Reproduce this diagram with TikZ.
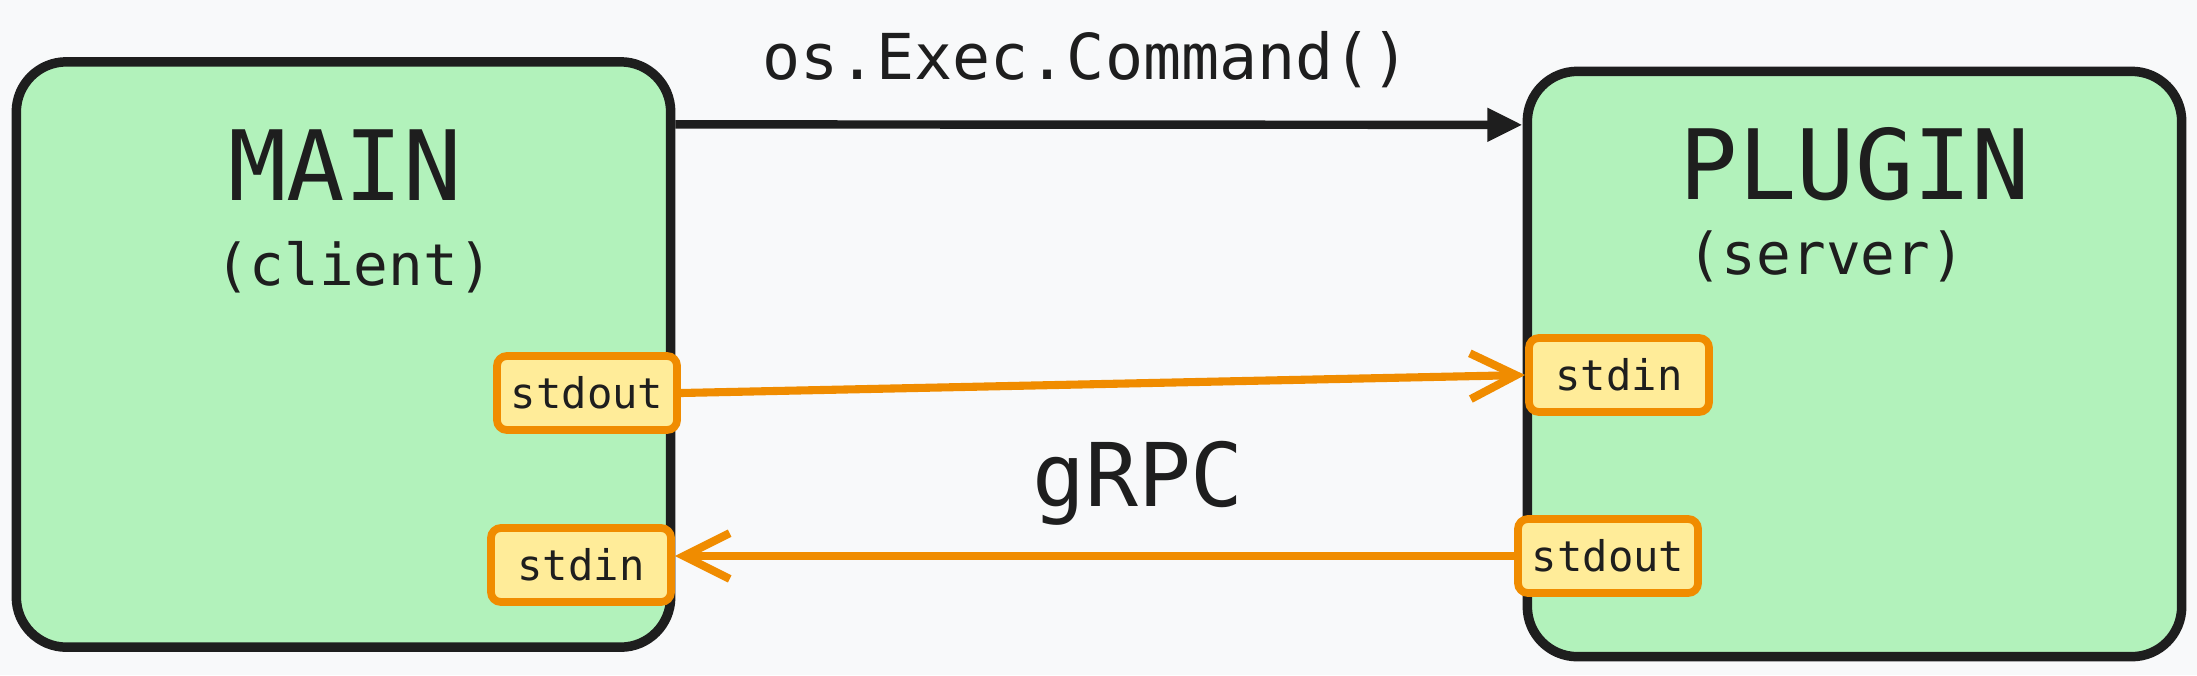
\documentclass[tikz,border=0pt]{standalone}
\usepackage{fontspec}
\setmainfont{DejaVu Sans Mono}
\usetikzlibrary{arrows.meta}
\definecolor{bgpaper}{HTML}{F8F9FA}
\definecolor{inkblack}{HTML}{1E1E1E}
\definecolor{boxgreen}{HTML}{B2F2BB}
\definecolor{pipeorange}{HTML}{F08C00}
\definecolor{pipeyellow}{HTML}{FFEC99}
\begin{document}
\begin{tikzpicture}[x = 0.01cm, y = -0.01cm,
		procbox/.style = {draw = inkblack, fill = boxgreen, line width = 2.7pt, rounded corners = 0.5cm, minimum width = 6.54cm, minimum height = 5.85cm},
		pipebox/.style = {draw = pipeorange, fill = pipeyellow, line width = 2.2pt, rounded corners = 0.1cm, minimum width = 1.8cm, minimum height = 0.74cm, inner sep = 0pt, font = \fontsize{12}{14}\selectfont, text = inkblack},
		bigtitle/.style = {text = inkblack, font = \fontsize{27.6}{30}\selectfont},
		subtitle/.style = {text = inkblack, font = \fontsize{16.4}{19}\selectfont},
		pipearrow/.style = {draw = pipeorange, line width = 2.3pt, line cap = round, -{Straight Barb[length = 13pt, width = 13pt]}}]
		\useasboundingbox[fill = bgpaper] (0,0) rectangle (2197,675);
		\node [procbox] (main) at (343.5,354.5) {};
		\node [procbox] (plugin) at (1854.5,364) {};
		\node [bigtitle] (maintitle) at (345,165) {MAIN};
		\node [subtitle] (mainrole) at (354,267) {(client)};
		\node [bigtitle] (plugintitle) at (1855,164) {PLUGIN};
		\node [subtitle] (pluginrole) at (1826,256) {(server)};
		\node [pipebox] (mainout) at (587,393) {stdout};
		\node [pipebox] (mainin) at (581,565) {stdin};
		\node [pipebox] (pluginin) at (1619,375) {stdin};
		\node [pipebox] (pluginout) at (1608,556) {stdout};
		\node [text = inkblack, font = \fontsize{18}{21}\selectfont] (cmdlabel) at (1086,60) {os.Exec.Command()};
		\node [text = inkblack, font = \fontsize{25}{28}\selectfont] (rpclabel) at (1138,483) {gRPC};
		\draw [inkblack, line width = 2.4pt, -{Triangle[length = 10pt, width = 9pt]}] ([yshift = 2.3cm]main.east) -- ([yshift = 2.39cm]plugin.west);
		\draw [pipearrow] (mainout.east) -- (pluginin.west);
		\draw [pipearrow] (pluginout.west) -- (pluginout.west -| mainin.east);
	\end{tikzpicture}
\end{document}
